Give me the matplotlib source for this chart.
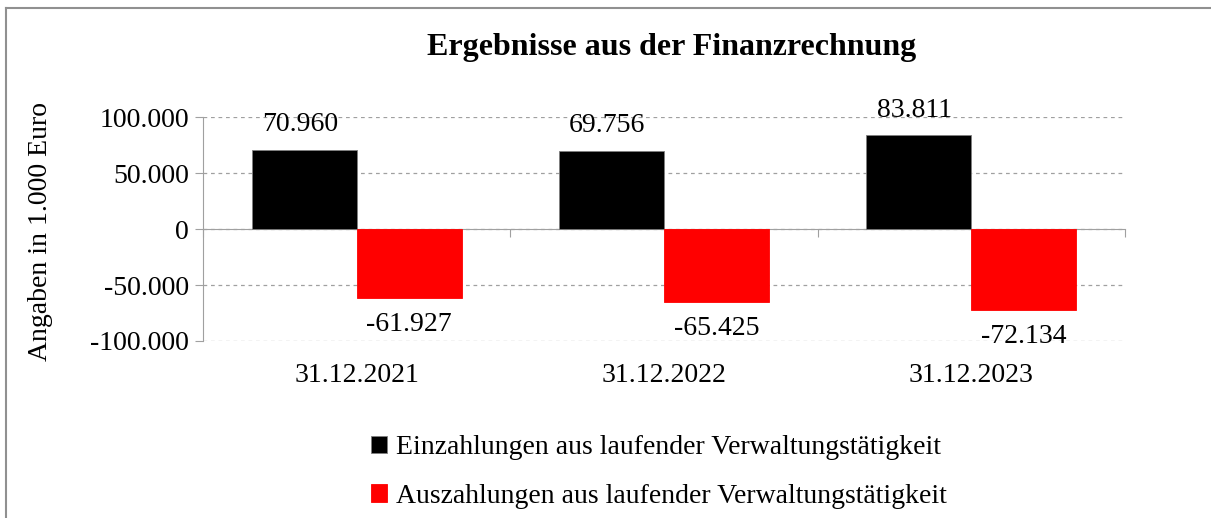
import matplotlib
matplotlib.use("Agg")
import matplotlib.pyplot as plt
from matplotlib.lines import Line2D
from matplotlib.ticker import FuncFormatter, FixedLocator
import numpy as np

plt.rcParams['font.family'] = ['Liberation Serif', 'DejaVu Serif']

categories = ["31.12.2021", "31.12.2022", "31.12.2023"]
einzahlungen = [70960, 69756, 83811]
auszahlungen = [-61927, -65425, -72134]
series_names = ["Einzahlungen aus laufender Verwaltungstätigkeit",
                "Auszahlungen aus laufender Verwaltungstätigkeit"]
title = "Ergebnisse aus der Finanzrechnung"
ylabel = "Angaben in 1.000 Euro"

FS = 20


def de_fmt(v, pos=None):
    return f"{int(v):,}".replace(",", ".")


fig = plt.figure(figsize=(12.11, 5.18), dpi=100)
ax = fig.add_axes([0.1676, 0.3417, 0.7614, 0.4324])

x = np.arange(len(categories))
w = 0.342
b1 = ax.bar(x - w / 2, einzahlungen, w, color="black", edgecolor="#7f7f7f",
            linewidth=0.6, label=series_names[0], zorder=3)
b2 = ax.bar(x + w / 2, auszahlungen, w, color="#ff0000", edgecolor="#ff0000",
            linewidth=0.6, label=series_names[1], zorder=3)

for rect, v in zip(b1, einzahlungen):
    ax.annotate(de_fmt(v), (rect.get_x() + rect.get_width() / 2, v),
                xytext=(-3, 18), textcoords="offset points",
                ha="center", va="center", fontsize=FS, zorder=4)
for rect, v in zip(b2, auszahlungen):
    ax.annotate(de_fmt(v), (rect.get_x() + rect.get_width() / 2, v),
                xytext=(0, -19), textcoords="offset points",
                ha="center", va="center", fontsize=FS, zorder=4)

ax.set_xlim(-0.5, len(categories) - 0.5)
ax.set_ylim(-100000, 100000)
ax.set_yticks([-100000, -50000, 0, 50000, 100000])
ax.yaxis.set_major_formatter(FuncFormatter(de_fmt))
ax.tick_params(axis="y", labelsize=FS, length=6, color="#a0a0a0", pad=4)
ax.yaxis.grid(True, linestyle=(0, (3, 3)), color="#a0a0a0", linewidth=0.9, zorder=0)

ax.spines["top"].set_visible(False)
ax.spines["right"].set_visible(False)
ax.spines["left"].set_color("#a0a0a0")
ax.spines["bottom"].set_position(("data", 0))
ax.spines["bottom"].set_color("#a0a0a0")
ax.spines["bottom"].set_zorder(2)
ax.xaxis.set_major_locator(FixedLocator([-0.5, 0.5, 1.5, 2.5]))
ax.tick_params(axis="x", labelbottom=False, length=6, color="#a0a0a0")

for i, c in enumerate(categories):
    ax.text(i, -0.152, c, transform=ax.get_xaxis_transform(),
            ha="center", va="center", fontsize=FS)

ax.set_ylabel(ylabel, fontsize=FS)
ax.yaxis.set_label_coords(-0.163, 0.487)

fig.text(0.555, 0.909, title, ha="center", va="center",
         fontsize=23, fontweight="bold")

fig.legend(handles=[b1, b2], loc="upper left", bbox_to_anchor=(0.306, 0.16),
           frameon=False, fontsize=FS, handlelength=0.6, handleheight=0.6,
           handletextpad=0.3, labelspacing=0.85, borderpad=0, borderaxespad=0)

# chart area frame: only top and left edges are visible in the crop
bx, by = 5.5 / 1211, 1 - 7.5 / 518
fig.lines.append(Line2D([bx, bx], [0, by], transform=fig.transFigure,
                        color="#909090", linewidth=1.5))
fig.lines.append(Line2D([bx, 1], [by, by], transform=fig.transFigure,
                        color="#909090", linewidth=1.5))

fig.savefig("out.png", dpi=100)
